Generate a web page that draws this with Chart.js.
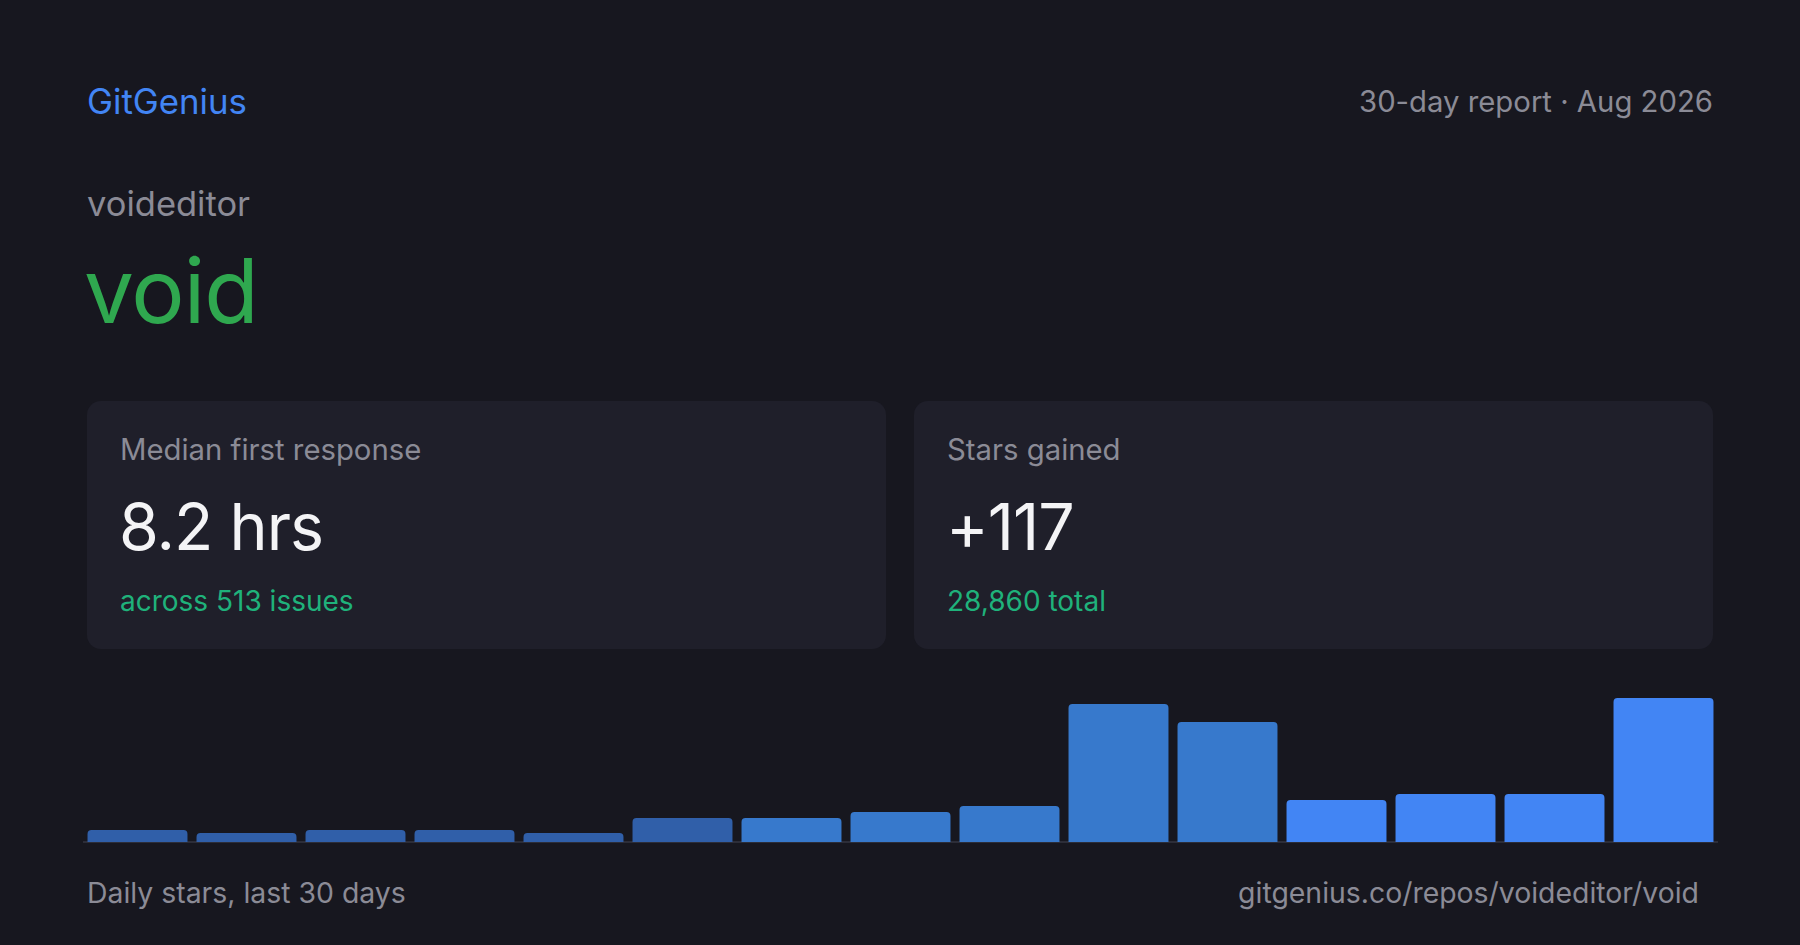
<!DOCTYPE html>
<html>
<head>
<meta charset="utf-8">
<script src="https://cdn.jsdelivr.net/npm/chart.js@4"></script>
<style>
  html, body { margin: 0; padding: 0; }
  body { width: 1800px; height: 945px; background: #17171f; font-family: Inter, "Noto Sans", sans-serif; position: relative; overflow: hidden; }
  .t { position: absolute; white-space: nowrap; line-height: 1; }
  .card { position: absolute; top: 401px; height: 248px; width: 799px; background: #1f1f2a; border-radius: 14px; }
  .lbl { position: absolute; left: 33px; top: 34px; font-size: 29.3px; color: #8b8b96; line-height: 1; }
  .big { position: absolute; left: 32px; top: 94px; font-size: 64.5px; color: #f4f4f6; line-height: 1; letter-spacing: -1px; }
  .sub { position: absolute; left: 33px; top: 186px; font-size: 28px; color: #1fb27b; line-height: 1; }
  #wrap { position: absolute; left: 82.5px; top: 698px; width: 1635px; height: 152px; }
</style>
</head>
<body>
<div class="t" style="left:87px;top:84px;font-size:34.8px;color:#4285f4;">GitGenius</div>
<div class="t" style="right:87px;top:87px;font-size:29.3px;color:#8b8b96;">30-day report · Aug 2026</div>
<div class="t" style="left:87px;top:187px;font-size:34.5px;color:#8b8b96;">voideditor</div>
<div class="t" style="left:84px;top:246px;font-size:89px;color:#2fa84f;letter-spacing:-1px;">void</div>

<div class="card" style="left:87px;">
  <div class="lbl">Median first response</div>
  <div class="big">8.2 hrs</div>
  <div class="sub">across 513 issues</div>
</div>
<div class="card" style="left:914px;">
  <div class="lbl">Stars gained</div>
  <div class="big">+117</div>
  <div class="sub">28,860 total</div>
</div>

<div id="wrap"><canvas id="c"></canvas></div>

<div class="t" style="left:87px;top:879px;font-size:28.4px;color:#8b8b96;">Daily stars, last 30 days</div>
<div class="t" style="right:101px;top:879px;font-size:28.4px;color:#8b8b96;">gitgenius.co/repos/voideditor/void</div>

<script>
// 15 buckets over the last 30 days
const buckets = ["1", "2", "3", "4", "5", "6", "7", "8", "9", "10", "11", "12", "13", "14", "15"];
const stars = [2, 1.5, 2, 2, 1.5, 4, 4, 5, 6, 23, 20, 7, 8, 8, 24];
const barColors = [
    "#305fa9", "#305fa9", "#305fa9", "#305fa9", "#305fa9", "#305fa9",
    "#3779cc", "#3779cc", "#3779cc", "#3779cc", "#3779cc",
    "#4285f4", "#4285f4", "#4285f4", "#4285f4"
];

new Chart(document.getElementById("c"), {
    type: "bar",
    data: {
        labels: buckets,
        datasets: [
            {
                label: "Stars",
                data: stars,
                backgroundColor: barColors,
                borderRadius: { topLeft: 4, topRight: 4, bottomLeft: 0, bottomRight: 0 },
                borderSkipped: "bottom",
                barPercentage: 0.917,
                categoryPercentage: 1,
            },
        ],
    },
    options: {
        responsive: true,
        maintainAspectRatio: false,
        animation: false,
        layout: { padding: 0 },
        plugins: { legend: { display: false }, tooltip: { enabled: false } },
        scales: {
            x: {
                grid: { display: false },
                ticks: { display: false },
                border: { display: true, color: "#2c2d38", width: 2 },
            },
            y: {
                display: false,
                min: 0,
                max: 24,
            },
        },
    },
});
</script>
</body>
</html>
